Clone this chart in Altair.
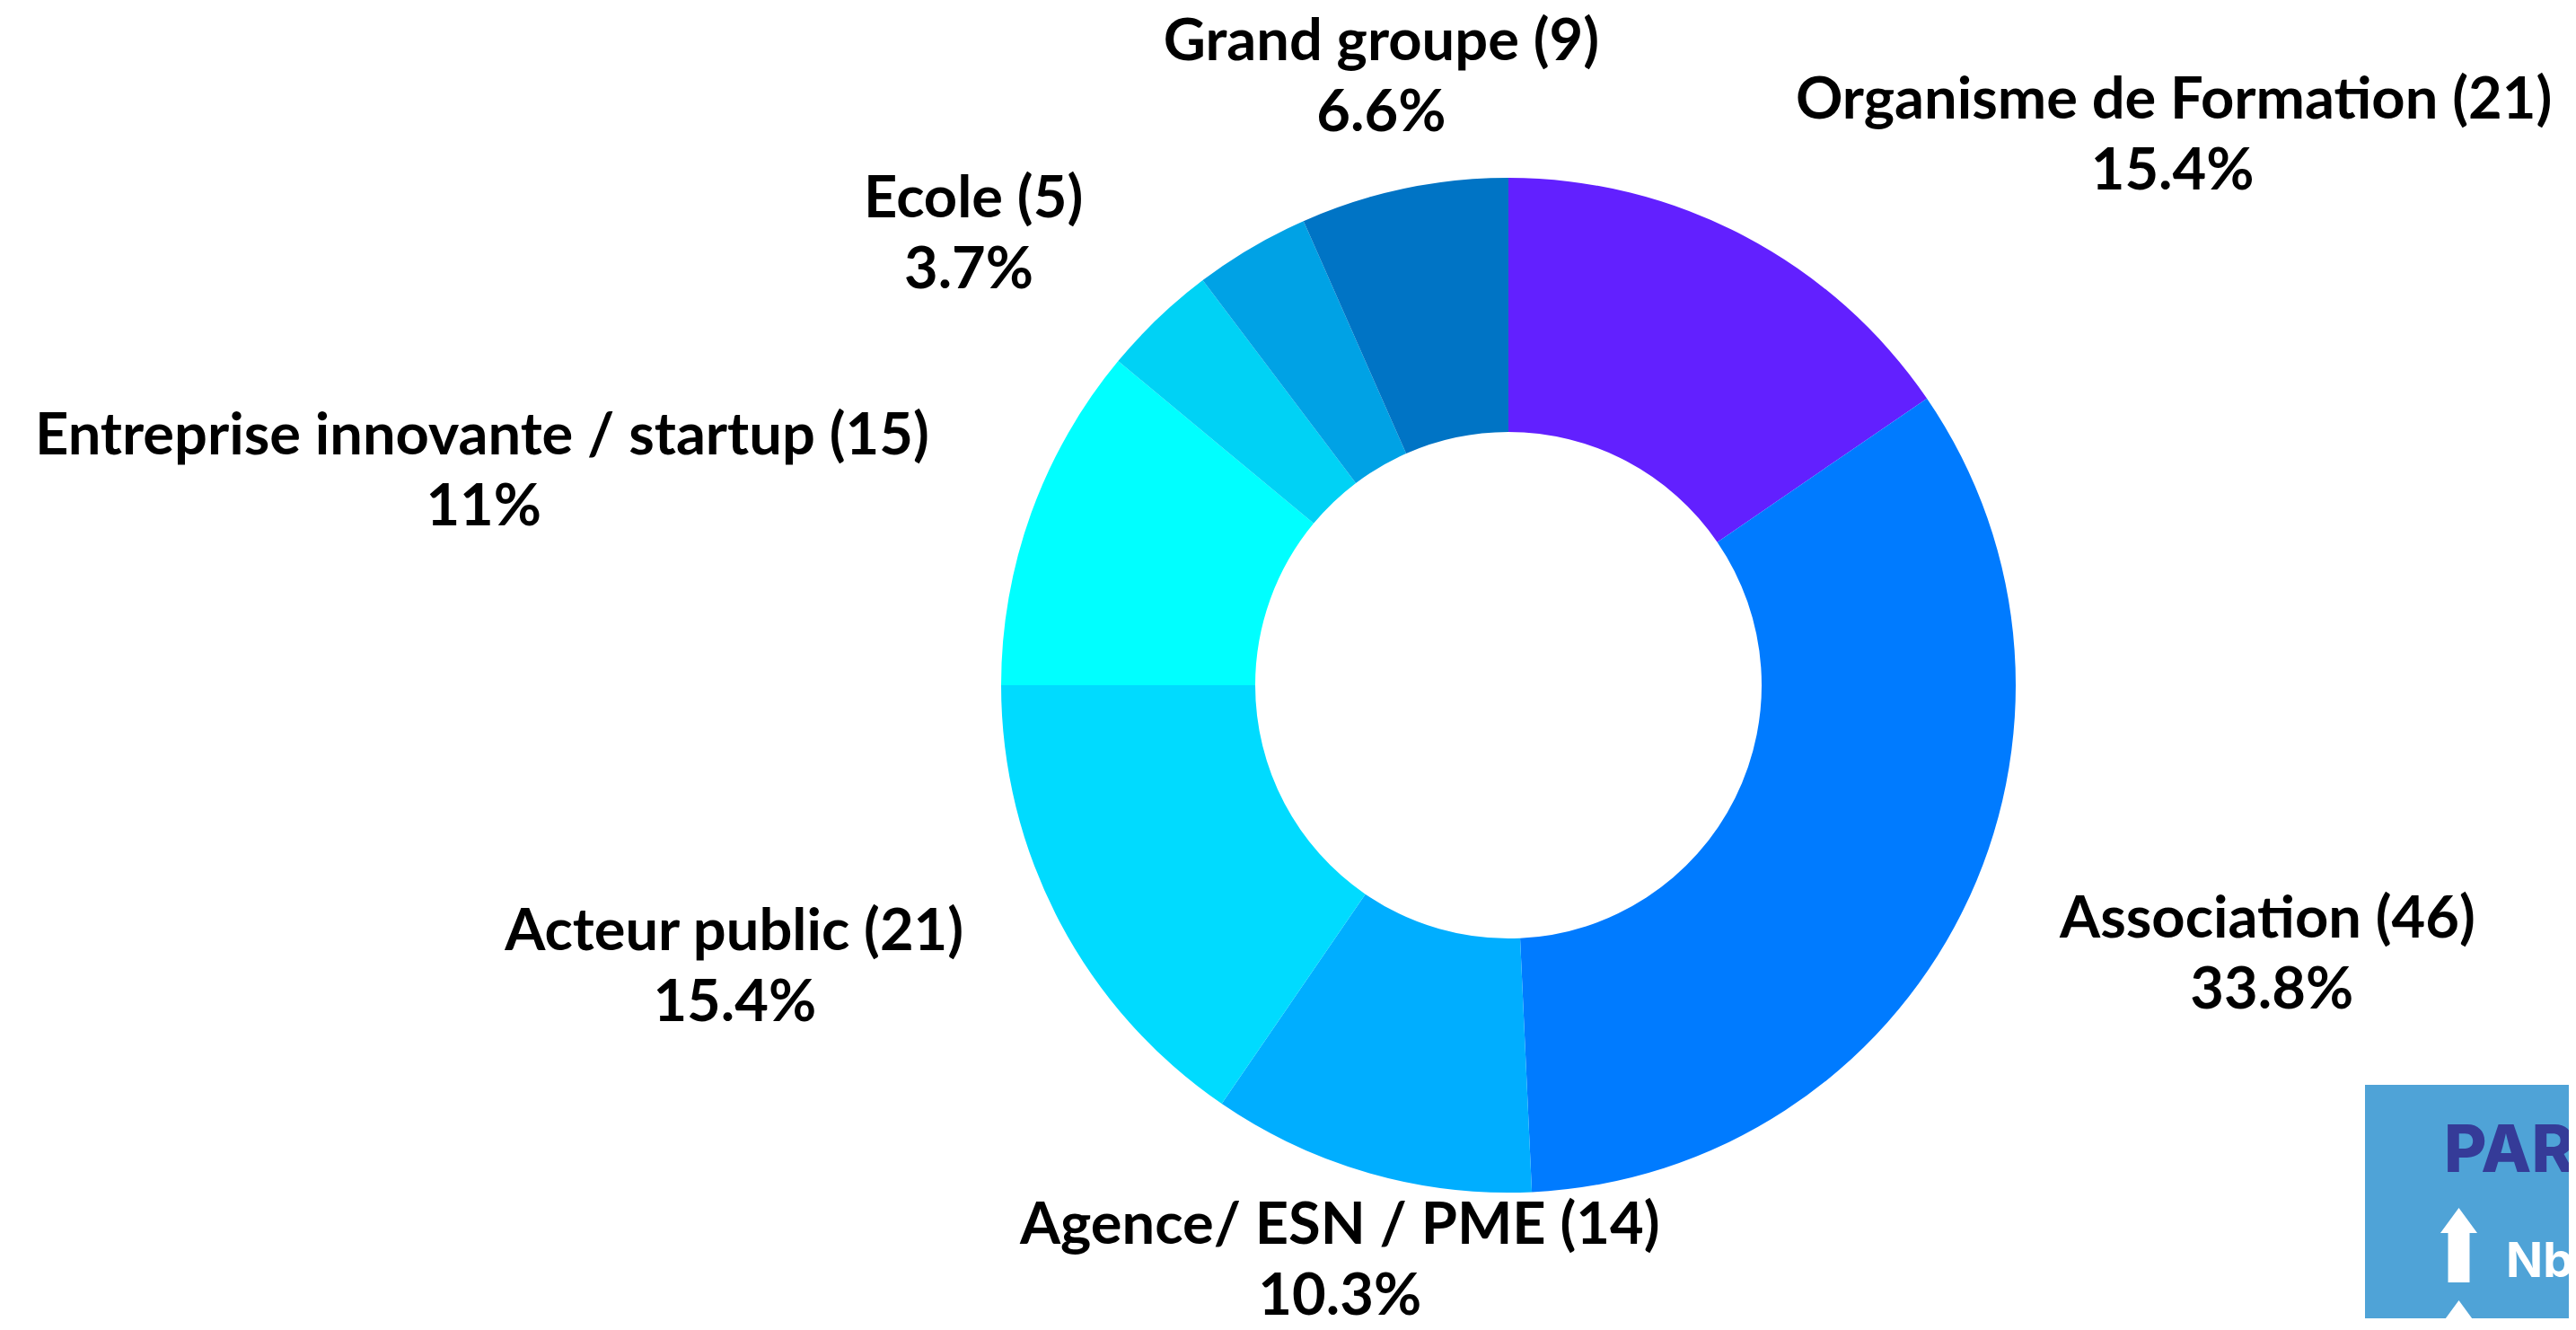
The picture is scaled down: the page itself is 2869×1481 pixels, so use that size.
import altair as alt
import pandas as pd

# ---- data ----
categories = [
    "Organisme de Formation",
    "Association",
    "Agence/ ESN / PME",
    "Acteur public",
    "Entreprise innovante / startup",
    "Ecole",
    "Autre",
    "Grand groupe",
]
counts = [21, 46, 14, 21, 15, 5, 5, 9]
colors = ["#6220FF", "#007BFF", "#00AEFF", "#00DBFF", "#00FFFF", "#00D2F5", "#00A2E5", "#0074C5"]
labelled = [c for c in categories if c != "Autre"]

df = pd.DataFrame({"category": categories, "count": counts, "order": list(range(len(categories)))})

W, H = 2853, 1460
CX, CY = 1672, 755
R_OUT, R_IN = 565, 282
R_LABEL = 686
LABEL_DY = -5
BOTTOM_LIMIT = H - 24
FONT = "Lato"
FS = 65
LH = 79


def cnt(cls):
    return f"(length(datum.l1) - length(replace(datum.l1, regexp('{cls}', 'g'), '')))"


# rough text-width estimate (in em) of the first label line, to centre the second line under it
width_expr = (
    f"{FS} * 1.025 * (0.52*length(datum.l1)"
    f" + (0.20-0.52)*{cnt(' ')}"
    f" + (0.25-0.52)*{cnt('[ijlI.]')}"
    f" + (0.30-0.52)*{cnt('[()f]')}"
    f" + (0.36-0.52)*{cnt('[/rt]')}"
    f" + (0.84-0.52)*{cnt('[mwMW%]')}"
    f" + (0.63-0.52)*{cnt('[A-HJ-LN-VX-Z]')}"
    f" + (0.58-0.52)*{cnt('[0-9]')})"
)

base = alt.Chart(df).transform_window(
    cum="sum(count)", frame=[None, 0], sort=[alt.SortField("order", order="ascending")]
).transform_joinaggregate(
    total="sum(count)"
).transform_calculate(
    start="2*PI*(datum.cum - datum.count)/datum.total",
    end="2*PI*datum.cum/datum.total",
    pct="datum.count/datum.total",
).transform_calculate(
    mid="(datum.start + datum.end)/2",
    l1="datum.category + ' (' + datum.count + ')'",
    l2="format(datum.pct, '.1~%')",
).transform_calculate(
    side="abs(sin(datum.mid)) < 0.35 ? 'center' : (sin(datum.mid) > 0 ? 'left' : 'right')",
    ax=f"{CX} + {R_LABEL}*sin(datum.mid)",
    ay=f"{CY} - {R_LABEL}*cos(datum.mid) + {LABEL_DY}",
    w=width_expr,
).transform_calculate(
    lift=f"max(0, datum.ay + {LH}/2 - {BOTTOM_LIMIT})",
).transform_calculate(
    y1=f"datum.ay - {LH}/2 - datum.lift",
    y2=f"datum.ay + {LH}/2 - datum.lift",
    x2c="datum.side == 'center' ? datum.ax : (datum.side == 'left' ? datum.ax + datum.w/2 : datum.ax - datum.w/2)",
)

arcs = base.mark_arc(outerRadius=R_OUT, innerRadius=R_IN).encode(
    theta=alt.Theta("start:Q", scale=None),
    theta2=alt.Theta2("end:Q"),
    color=alt.Color("category:N", scale=alt.Scale(domain=categories, range=colors), legend=None),
    x=alt.value(CX),
    y=alt.value(CY),
)

lab = base.transform_filter(alt.FieldOneOfPredicate(field="category", oneOf=labelled))
txt = dict(baseline="middle", font=FONT, fontWeight="bold", fontSize=FS, color="#000000")


def line1(side):
    return lab.transform_filter(f"datum.side == '{side}'").mark_text(align=side, **txt).encode(
        x=alt.X("ax:Q", scale=None), y=alt.Y("y1:Q", scale=None), text="l1:N"
    )


line1_layers = [line1(s) for s in ["left", "right", "center"]]
line2 = lab.mark_text(align="center", **txt).encode(
    x=alt.X("x2c:Q", scale=None), y=alt.Y("y2:Q", scale=None), text="l2:N"
)

# ---- cropped info box in the bottom-right corner ----
box_df = pd.DataFrame({"k": [0]})
box = alt.Chart(box_df).mark_rect(color="#4FA3D7").encode(
    x=alt.value(2626), x2=alt.value(W), y=alt.value(1200), y2=alt.value(H)
)
box_title = alt.Chart(box_df).mark_text(
    text="PARTENAIRES", align="left", baseline="alphabetic", font="Inter", fontWeight=800,
    fontSize=73, color="#353B98",
).encode(x=alt.value(2714), y=alt.value(1297))
box_nb = alt.Chart(box_df).mark_text(
    text="Nb", align="left", baseline="alphabetic", font="Inter", fontWeight="bold",
    fontSize=54, color="#FFFFFF",
).encode(x=alt.value(2783), y=alt.value(1414))
arrow_path = "M0,-1 L0.494,-0.325 L0.289,-0.325 L0.289,1 L-0.289,1 L-0.289,-0.325 L-0.494,-0.325 Z"
arrow_df = pd.DataFrame({"ay": [1378.5, 1481.5]})
arrows = alt.Chart(arrow_df).mark_point(
    shape=arrow_path, size=6889, filled=True, color="#FFFFFF", opacity=1, strokeWidth=0
).encode(x=alt.value(2730.5), y=alt.Y("ay:Q", scale=None))

chart = alt.layer(arcs, *line1_layers, line2, box, box_title, box_nb, arrows).properties(
    width=W, height=H, padding=0, autosize=alt.AutoSizeParams(type="none")
).configure_view(stroke=None)

chart.save("out.html", embed_options={"renderer": "svg", "actions": False})
